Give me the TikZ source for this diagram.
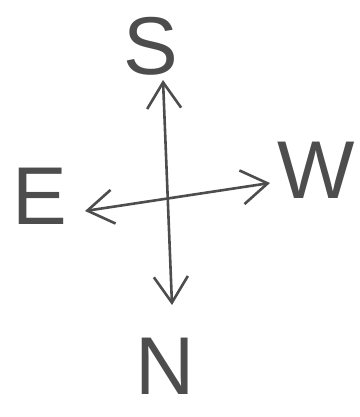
\documentclass[tikz,border=0pt]{standalone}
\usepackage{fontspec}
\setmainfont{Liberation Sans}
\usetikzlibrary{arrows.meta}
\definecolor{penlead}{HTML}{4D4D4D}

\begin{document}
\begin{tikzpicture}[
      x=1pt,
      y=-1pt,
      letter/.style={
        text=penlead,
        font=\fontsize{82}{82}\selectfont,
        inner sep=0pt
      },
      needle/.style={
        {Straight Barb[length=26pt, width=34pt]}-{Straight Barb[length=26pt, width=34pt]},
        line width=2.6pt,
        draw=penlead,
        line cap=round
      }
  ]

    \useasboundingbox (0,0) rectangle (359,417);

    \node[letter] (south) at (151,46) {S};
    \node[letter] (north) at (165,366) {N};
    \node[letter] (east)  at (40,196) {E};
    \node[letter] (west)  at (316,170) {W};

    % Pfeilenden
    \coordinate (top)    at (163,80);
    \coordinate (bottom) at (172,305);
    \coordinate (left)   at (85,211);
    \coordinate (right)  at (270,183);

    \draw[needle] (top) -- (bottom);
    \draw[needle] (left) -- (right);

  \end{tikzpicture}
\end{document}
